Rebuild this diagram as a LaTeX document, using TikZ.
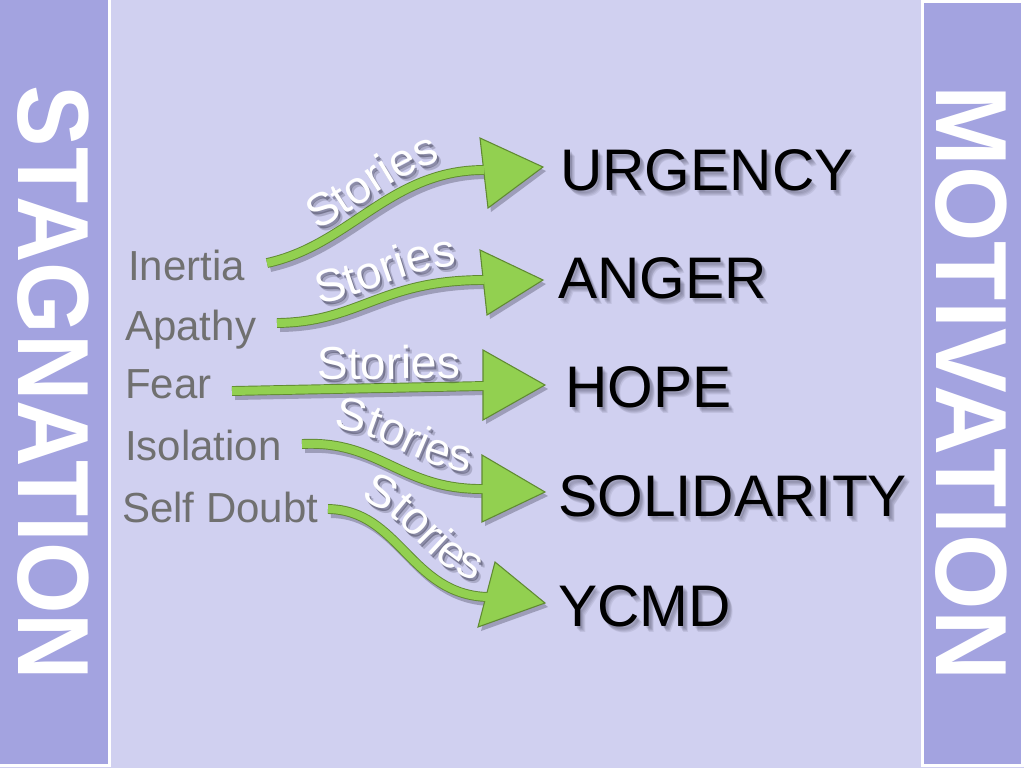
\documentclass[tikz,border=0pt]{standalone}
\usepackage{fontspec}
\usepackage{graphicx}
\setmainfont{Liberation Sans}
\usetikzlibrary{calc,decorations.text}
\definecolor{bgc}{RGB}{208,208,240}
\definecolor{barc}{RGB}{163,163,224}
\definecolor{wordgray}{RGB}{112,112,112}
\definecolor{arrgreen}{RGB}{146,208,80}
\definecolor{arredge}{RGB}{96,138,50}
\definecolor{shadowc}{RGB}{40,40,60}
\newcommand{\stfont}{\fontsize{34.5pt}{38pt}\selectfont}
\tikzset{
  sidebar/.style={fill=barc, draw=white, line width=1.6pt},
  bartext/.style={text=white, inner sep=0pt, rotate=-90, font=\fontsize{70pt}{70pt}\selectfont\bfseries},
  leftword/.style={anchor=base west, inner sep=0pt, text=wordgray, font=\fontsize{31.5pt}{36pt}\selectfont},
  rightword/.style={anchor=base west, inner sep=0pt, text=black, font=\fontsize{44pt}{50pt}\selectfont},
  shaftout/.style={draw=arredge, line width=7.4pt, line cap=butt},
  shaftin/.style={draw=arrgreen, line width=6pt, line cap=butt},
  headstyle/.style={fill=arrgreen, draw=arredge, line width=0.8pt, line join=miter},
  shadowshaft/.style={draw=shadowc, line width=7.5pt, line cap=butt},
}
\newcommand{\shadowword}[3]{%
  \foreach \o in {1,...,5}{%
    \node[rightword, text=shadowc, opacity=0.09] (#1s\o) at ($(#2)+({1+0.8*\o},{1+\o})$) {#3};}
  \node[rightword] (#1) at (#2) {#3};}
\newcommand{\storylabel}[1]{%
  \begin{scope}[transform canvas={xshift=1.5pt,yshift=-2.25pt}, opacity=0.4]
    \path[decorate, decoration={text along path, text={|\stfont\color{shadowc}|Stories}, text align=center}] #1;
  \end{scope}
  \begin{scope}[transform canvas={xshift=3pt,yshift=-3.75pt}, opacity=0.22]
    \path[decorate, decoration={text along path, text={|\stfont\color{shadowc}|Stories}, text align=center}] #1;
  \end{scope}
  \path[decorate, decoration={text along path, text={|\stfont\color{white}|Stories}, text align=center}] #1;}
\begin{document}
\begin{tikzpicture}[x=0.75pt,y=-0.75pt]
\useasboundingbox (0,0) rectangle (1024,768);
\fill[bgc] (0,0) rectangle (1024,768);
% side bars
\draw[sidebar] (-3,-3) rectangle (109.5,765.5);
\draw[sidebar] (922.5,1.5) rectangle (1022.5,765.5);
\node[bartext] (stag) at (53,383) {\resizebox{446pt}{53pt}{STAGNATION}};
\node[bartext] (motiv) at (971.5,383) {\resizebox{446pt}{53pt}{MOTIVATION}};
% left words
\node[leftword] (inertia) at (128,280) {Inertia};
\node[leftword] (apathy) at (125,340) {Apathy};
\node[leftword] (fear) at (125,398) {Fear};
\node[leftword] (isolation) at (125,460) {Isolation};
\node[leftword] (selfdoubt) at (122,522) {Self Doubt};
% right words
\shadowword{urgency}{560,190}{URGENCY}
\shadowword{anger}{558,298}{ANGER}
\shadowword{hope}{565,407}{HOPE}
\shadowword{solidarity}{558,516}{SOLIDARITY}
\shadowword{ycmd}{558,626}{YCMD}
% arrow coordinates
\coordinate (t1) at (267,263); \coordinate (b1) at (484,170);
\coordinate (h1a) at (480,138); \coordinate (h1b) at (488,208); \coordinate (p1) at (543,167);
\coordinate (t2) at (277,323); \coordinate (b2) at (484,280);
\coordinate (h2a) at (480,250); \coordinate (h2b) at (487,315); \coordinate (p2) at (543,280);
\coordinate (t3) at (232,391); \coordinate (b3) at (484,386);
\coordinate (h3a) at (483,350); \coordinate (h3b) at (483,420); \coordinate (p3) at (545,385);
\coordinate (t4) at (302,444); \coordinate (b4) at (484,489);
\coordinate (h4a) at (482,455); \coordinate (h4b) at (482,522); \coordinate (p4) at (545,492);
\coordinate (t5) at (328,509); \coordinate (b5) at (488,597);
\coordinate (h5a) at (495,562); \coordinate (h5b) at (478,627); \coordinate (p5) at (545,603);
% arrow shadows
\begin{scope}[transform canvas={xshift=2.25pt,yshift=-3pt}, opacity=0.3]
  \draw[shadowshaft] (t1) .. controls (350,245) and (390,170) .. (b1);
  \fill[shadowc] (h1a) -- (p1) -- (h1b) -- cycle;
  \draw[shadowshaft] (t2) .. controls (360,322) and (380,280) .. (b2);
  \fill[shadowc] (h2a) -- (p2) -- (h2b) -- cycle;
  \draw[shadowshaft] (t3) -- (b3);
  \fill[shadowc] (h3a) -- (p3) -- (h3b) -- cycle;
  \draw[shadowshaft] (t4) .. controls (380,440) and (400,490) .. (b4);
  \fill[shadowc] (h4a) -- (p4) -- (h4b) -- cycle;
  \draw[shadowshaft] (t5) .. controls (400,510) and (410,595) .. (b5);
  \fill[shadowc] (h5a) -- (p5) -- (h5b) -- cycle;
\end{scope}
% arrows
\draw[shaftout] (t1) .. controls (350,245) and (390,170) .. (b1);
\filldraw[headstyle] (h1a) -- (p1) -- (h1b) -- cycle;
\draw[shaftin] (t1) .. controls (350,245) and (390,170) .. (b1);
\draw[shaftout] (t2) .. controls (360,322) and (380,280) .. (b2);
\filldraw[headstyle] (h2a) -- (p2) -- (h2b) -- cycle;
\draw[shaftin] (t2) .. controls (360,322) and (380,280) .. (b2);
\draw[shaftout] (t3) -- (b3);
\filldraw[headstyle] (h3a) -- (p3) -- (h3b) -- cycle;
\draw[shaftin] (t3) -- (b3);
\draw[shaftout] (t4) .. controls (380,440) and (400,490) .. (b4);
\filldraw[headstyle] (h4a) -- (p4) -- (h4b) -- cycle;
\draw[shaftin] (t4) .. controls (380,440) and (400,490) .. (b4);
\draw[shaftout] (t5) .. controls (400,510) and (410,595) .. (b5);
\filldraw[headstyle] (h5a) -- (p5) -- (h5b) -- cycle;
\draw[shaftin] (t5) .. controls (400,510) and (410,595) .. (b5);
% story labels
\storylabel{(272,247) .. controls (355,229) and (395,154) .. (489,153)}
\storylabel{(285,307) .. controls (368,306) and (388,264) .. (492,264)}
\storylabel{(300,380) -- (478,378)}
\storylabel{(310,428) .. controls (388,424) and (408,474) .. (492,473)}
\storylabel{(338,496) .. controls (410,497) and (420,582) .. (498,584)}
\end{tikzpicture}
\end{document}
